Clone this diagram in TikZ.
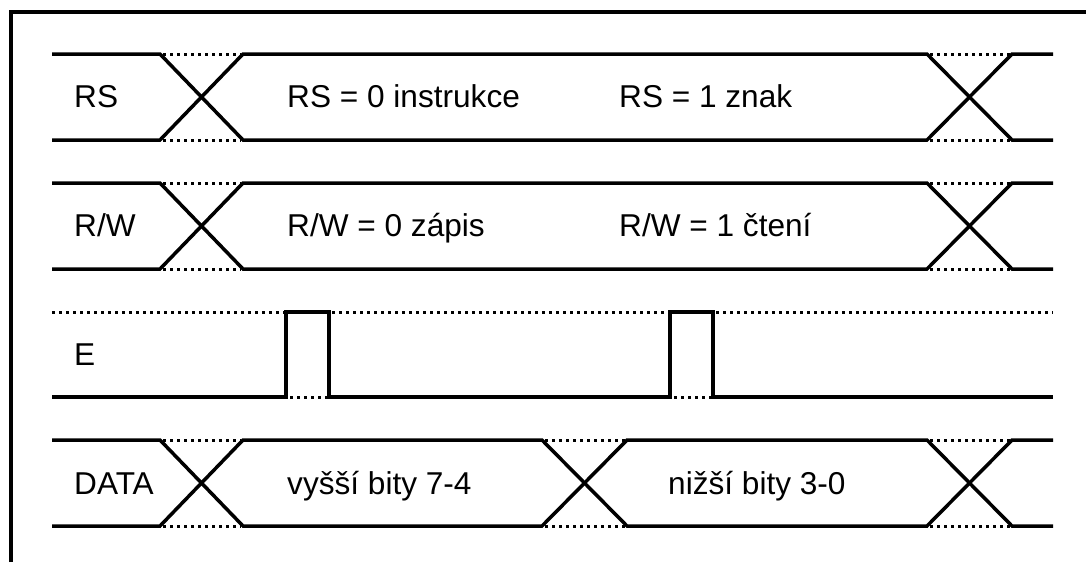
\documentclass[tikz,border=0pt]{standalone}
\usepackage{fontspec}
\setmainfont{Liberation Sans}
\begin{document}
\begin{tikzpicture}[x=1pt,y=-1pt,
  wave/.style={line width=3.5pt, line join=miter},
  hold/.style={line width=3pt, dash pattern=on 3pt off 4pt},
  frame/.style={line width=3.6pt},
  lbl/.style={anchor=base west, inner sep=0pt, font=\fontsize{31.6}{36}\selectfont}]
\useasboundingbox (0,0) rectangle (1086,562);
% outer frame (left and top edges)
\draw[frame] (11,562) -- (11,12) -- (1086,12);

% ---- RS bus ----
\draw[wave] (52,54)--(160,54)--(243,140)--(927,140)--(1012,54)--(1053,54);
\draw[wave] (52,140)--(160,140)--(243,54)--(927,54)--(1012,140)--(1053,140);
\draw[hold] (163,54)--(241,54) (163,140)--(241,140) (930,54)--(1010,54) (930,140)--(1010,140);
\node[lbl] (rs) at (74,107) {RS};
\node[lbl] (rs0) at (287,107) {RS = 0 instrukce};
\node[lbl] (rs1) at (619,107) {RS = 1 znak};

% ---- R/W bus ----
\draw[wave] (52,183)--(160,183)--(243,269)--(927,269)--(1012,183)--(1053,183);
\draw[wave] (52,269)--(160,269)--(243,183)--(927,183)--(1012,269)--(1053,269);
\draw[hold] (163,183)--(241,183) (163,269)--(241,269) (930,183)--(1010,183) (930,269)--(1010,269);
\node[lbl] (rw) at (74,236) {R/W};
\node[lbl] (rw0) at (287,236) {R/W = 0 zápis};
\node[lbl] (rw1) at (619,236) {R/W = 1 čtení};

% ---- E strobe ----
\draw[wave] (52,397)--(286,397)--(286,312)--(329,312)--(329,397)--(670,397)--(670,312)--(713,312)--(713,397)--(1053,397);
\draw[hold] (52,312)--(284,312) (332,312)--(668,312) (716,312)--(1053,312)
            (290,397)--(327,397) (674,397)--(711,397);
\node[lbl] (e) at (74,365) {E};

% ---- DATA bus ----
\draw[wave] (52,440)--(160,440)--(243,526)--(542,526)--(627,440)--(927,440)--(1012,526)--(1053,526);
\draw[wave] (52,526)--(160,526)--(243,440)--(542,440)--(627,526)--(927,526)--(1012,440)--(1053,440);
\draw[hold] (163,440)--(241,440) (163,526)--(241,526)
            (545,440)--(625,440) (545,526)--(625,526)
            (930,440)--(1010,440) (930,526)--(1010,526);
\node[lbl] (data) at (74,494) {DATA};
\node[lbl] (hi) at (287,494) {vyšší bity 7-4};
\node[lbl] (lo) at (668,494) {nižší bity 3-0};
\end{tikzpicture}
\end{document}
